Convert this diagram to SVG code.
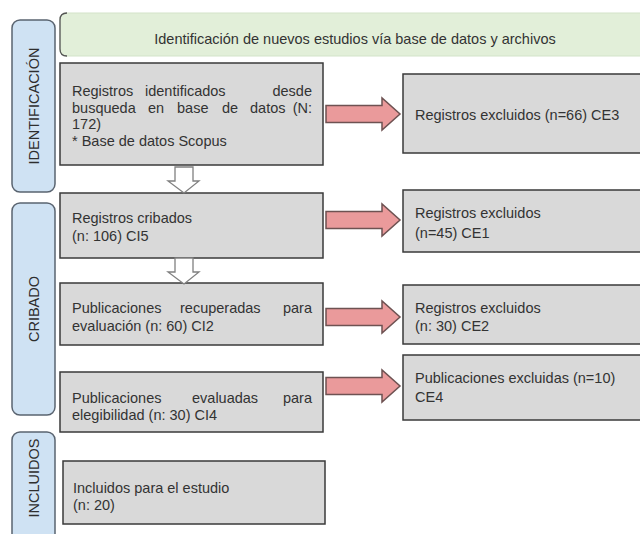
<svg xmlns="http://www.w3.org/2000/svg" width="640" height="534" viewBox="0 0 640 534">
  <style>
    text { font-family: "Liberation Sans", Arial, sans-serif; fill: #333; font-size: 14.5px; }
    .hdr { font-size: 14.5px; }
    .side { font-size: 14.5px; fill: #2e2e2e; }
    .box { fill: #d9d9d9; stroke: #3a3a3a; stroke-width: 1.5; }
    .phase { fill: #cfe2f3; stroke: #5a6470; stroke-width: 1.5; }
    .redarrow { fill: #ea9a9b; stroke: #6e5252; stroke-width: 1.5; stroke-linejoin: miter; }
    .downarrow { fill: #ffffff; stroke: #808080; stroke-width: 1.3; }
  </style>
  <defs>
    <!-- horizontal block arrow, centred on y = 0 -->
    <path id="rarrow" d="M326 -8.5 H382 V-16 L400 0 L382 16 V8.5 H326 Z"/>
    <!-- hollow down arrow, top at y = 0 -->
    <path id="darrow" d="M175 0 H193 V14 H199 L184 26 L168 14 H175 Z"/>
  </defs>

  <rect width="640" height="534" fill="#ffffff"/>

  <!-- header band -->
  <g id="header">
    <rect x="60" y="13" width="600" height="43" rx="6" fill="#e2efd9" stroke="#d3e3c9" stroke-width="1"/>
    <path d="M67 13 Q60 13 60 20 V49 Q60 56 67 56" fill="none" stroke="#555" stroke-width="1.3"/>
    <text class="hdr" x="355" y="44" text-anchor="middle">Identificación de nuevos estudios vía base de datos y archivos</text>
  </g>

  <!-- phase labels -->
  <g id="phase-identificacion">
    <rect class="phase" x="12" y="20" width="43" height="172" rx="8"/>
    <text class="side" transform="translate(39 106) rotate(-90)" text-anchor="middle">IDENTIFICACIÓN</text>
  </g>
  <g id="phase-cribado">
    <rect class="phase" x="12" y="203" width="43" height="212" rx="8"/>
    <text class="side" transform="translate(39 309) rotate(-90)" text-anchor="middle">CRIBADO</text>
  </g>
  <g id="phase-incluidos">
    <rect class="phase" x="12" y="432" width="43" height="120" rx="8"/>
    <text class="side" transform="translate(39 478) rotate(-90)" text-anchor="middle">INCLUIDOS</text>
  </g>

  <!-- left column -->
  <g id="identificados">
    <rect class="box" x="60" y="63" width="263" height="102"/>
    <text y="96"><tspan x="72">Registros</tspan><tspan x="145">identificados</tspan><tspan x="312" text-anchor="end">desde</tspan></text>
    <text y="113"><tspan x="72">busqueda</tspan><tspan x="148">en</tspan><tspan x="177">base</tspan><tspan x="222">de</tspan><tspan x="250">datos</tspan><tspan x="312" text-anchor="end">(N:</tspan></text>
    <text x="72" y="129">172)</text>
    <text x="72" y="146">* Base de datos Scopus</text>
  </g>
  <g id="cribados">
    <rect class="box" x="60" y="193" width="263" height="65"/>
    <text x="72" y="223">Registros cribados</text>
    <text x="72" y="241">(n: 106) CI5</text>
  </g>
  <g id="recuperadas">
    <rect class="box" x="60" y="283" width="263" height="62"/>
    <text y="313"><tspan x="72">Publicaciones</tspan><tspan x="180">recuperadas</tspan><tspan x="312" text-anchor="end">para</tspan></text>
    <text x="72" y="331">evaluación (n: 60) CI2</text>
  </g>
  <g id="evaluadas">
    <rect class="box" x="60" y="372" width="263" height="60"/>
    <text y="403"><tspan x="72">Publicaciones</tspan><tspan x="192">evaluadas</tspan><tspan x="312" text-anchor="end">para</tspan></text>
    <text x="72" y="420">elegibilidad (n: 30) CI4</text>
  </g>
  <g id="incluidos">
    <rect class="box" x="63" y="461" width="262" height="63"/>
    <text x="73" y="493">Incluidos para el estudio</text>
    <text x="73" y="510">(n: 20)</text>
  </g>

  <!-- right column -->
  <g id="excluidos-ce3">
    <rect class="box" x="403" y="74" width="250" height="79"/>
    <text x="415" y="120">Registros excluidos (n=66) CE3</text>
  </g>
  <g id="excluidos-ce1">
    <rect class="box" x="403" y="190" width="250" height="62"/>
    <text x="415" y="218">Registros excluidos</text>
    <text x="415" y="238">(n=45) CE1</text>
  </g>
  <g id="excluidos-ce2">
    <rect class="box" x="403" y="285" width="250" height="59"/>
    <text x="415" y="313">Registros excluidos</text>
    <text x="415" y="331">(n: 30) CE2</text>
  </g>
  <g id="excluidos-ce4">
    <rect class="box" x="403" y="355" width="250" height="65"/>
    <text x="415" y="383">Publicaciones excluidas (n=10)</text>
    <text x="415" y="402">CE4</text>
  </g>

  <!-- connectors -->
  <g id="connectors">
    <use href="#darrow" class="downarrow" transform="translate(0 167)"/>
    <use href="#darrow" class="downarrow" transform="translate(0 258)"/>
    <use href="#rarrow" class="redarrow" transform="translate(0 114)"/>
    <use href="#rarrow" class="redarrow" transform="translate(0 220)"/>
    <use href="#rarrow" class="redarrow" transform="translate(0 317)"/>
    <use href="#rarrow" class="redarrow" transform="translate(0 386)"/>
  </g>
</svg>
